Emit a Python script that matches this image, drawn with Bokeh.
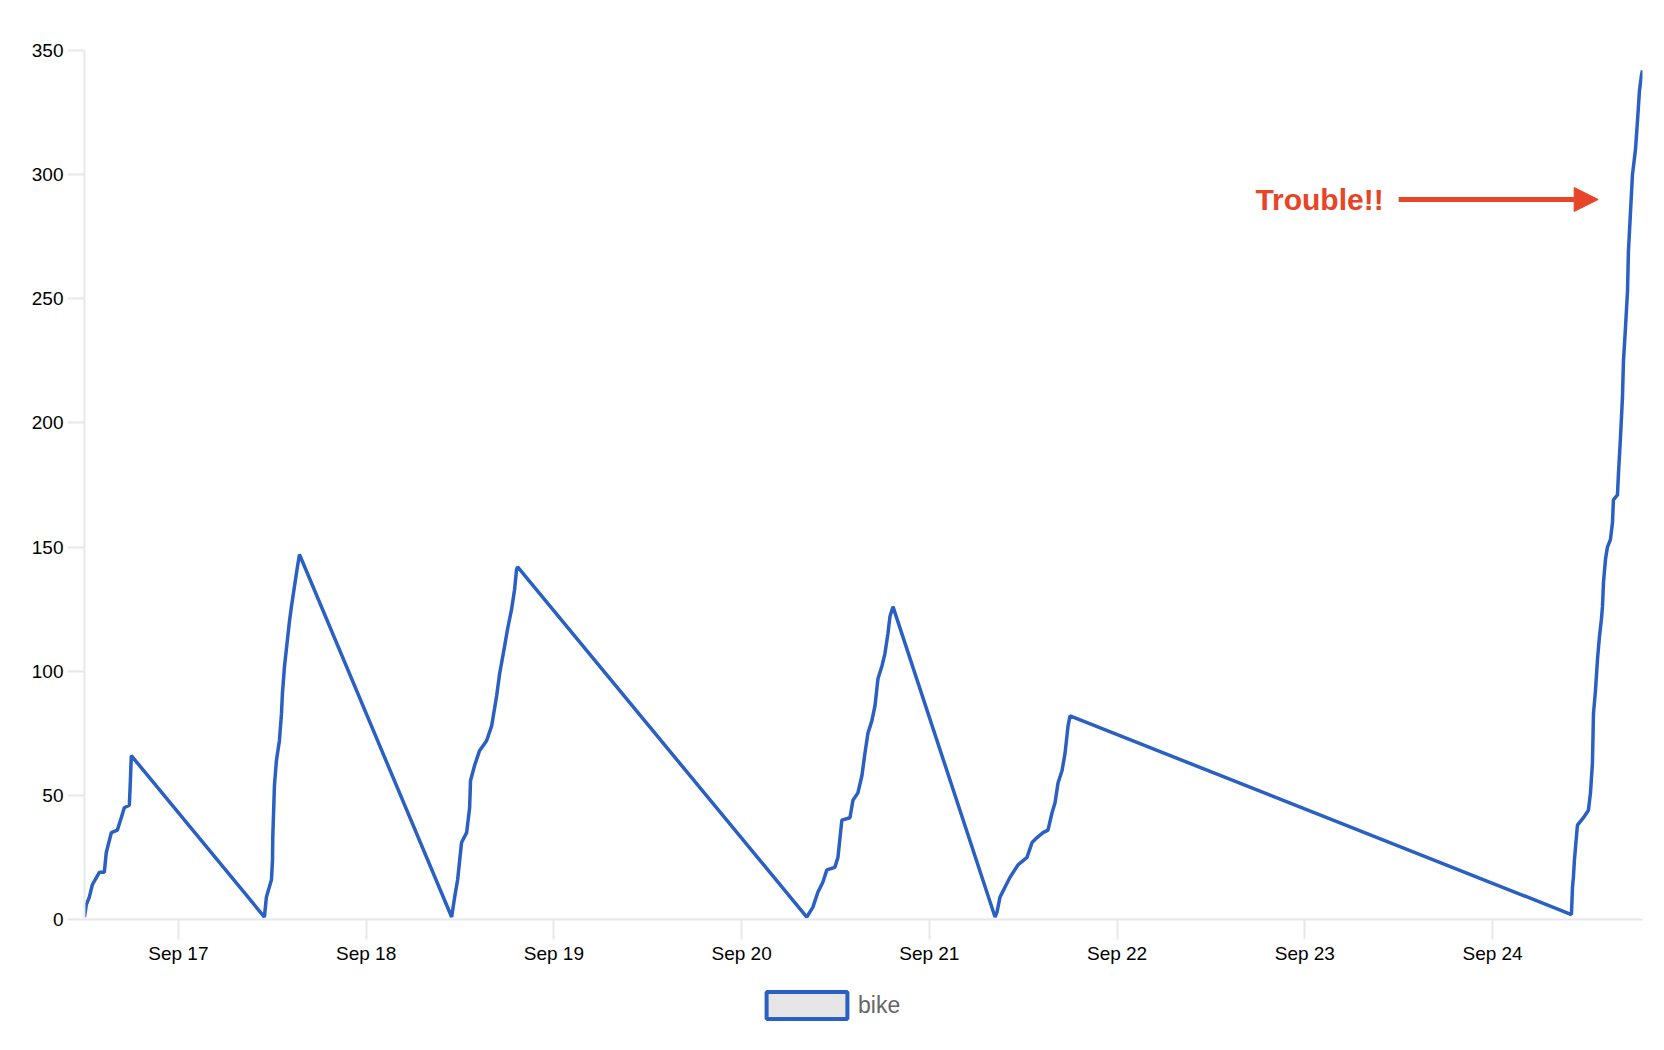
#!/usr/bin/env python
# coding: utf-8
import pandas as pd
from bokeh.plotting import figure
from bokeh.models import (DatetimeTickFormatter, DaysTicker, FixedTicker, Range1d,
                          Legend, LegendItem, Arrow, NormalHead, Label, ColumnDataSource)
from bokeh.layouts import column
from bokeh.embed import file_html
from bokeh.resources import INLINE

# cumulative bike count, one ramp per day
TIMES = [
    # Sep 16
    "2015-09-16 12:00", "2015-09-16 12:14", "2015-09-16 12:37", "2015-09-16 13:00",
    "2015-09-16 13:54", "2015-09-16 14:32", "2015-09-16 14:47", "2015-09-16 15:26",
    "2015-09-16 16:12", "2015-09-16 16:42", "2015-09-16 17:05", "2015-09-16 17:44",
    "2015-09-16 17:52", "2015-09-16 17:59",
    # Sep 17
    "2015-09-17 11:00", "2015-09-17 11:15", "2015-09-17 11:54", "2015-09-17 12:02",
    "2015-09-17 12:04", "2015-09-17 12:17", "2015-09-17 12:32", "2015-09-17 12:55",
    "2015-09-17 13:11", "2015-09-17 13:18", "2015-09-17 13:34", "2015-09-17 13:57",
    "2015-09-17 14:12", "2015-09-17 14:27", "2015-09-17 14:50", "2015-09-17 15:13",
    "2015-09-17 15:29",
    # Sep 18
    "2015-09-18 10:56", "2015-09-18 11:19", "2015-09-18 11:42", "2015-09-18 12:12",
    "2015-09-18 12:51", "2015-09-18 13:14", "2015-09-18 13:21", "2015-09-18 13:52",
    "2015-09-18 14:30", "2015-09-18 15:24", "2015-09-18 16:03", "2015-09-18 16:41",
    "2015-09-18 17:04", "2015-09-18 17:42", "2015-09-18 18:05", "2015-09-18 18:36",
    "2015-09-18 18:59", "2015-09-18 19:14", "2015-09-18 19:22",
    # Sep 20
    "2015-09-20 08:20", "2015-09-20 09:07", "2015-09-20 09:45", "2015-09-20 10:23",
    "2015-09-20 10:54", "2015-09-20 11:55", "2015-09-20 12:19", "2015-09-20 12:49",
    "2015-09-20 13:51", "2015-09-20 14:14", "2015-09-20 14:52", "2015-09-20 15:23",
    "2015-09-20 15:46", "2015-09-20 16:09", "2015-09-20 16:39", "2015-09-20 17:03",
    "2015-09-20 17:26", "2015-09-20 17:56", "2015-09-20 18:19", "2015-09-20 18:42",
    "2015-09-20 18:58", "2015-09-20 19:21",
    # Sep 21
    "2015-09-21 08:24", "2015-09-21 08:39", "2015-09-21 09:02", "2015-09-21 09:40",
    "2015-09-21 10:19", "2015-09-21 11:20", "2015-09-21 12:29", "2015-09-21 13:08",
    "2015-09-21 13:46", "2015-09-21 14:32", "2015-09-21 15:10", "2015-09-21 15:41",
    "2015-09-21 16:04", "2015-09-21 16:27", "2015-09-21 16:58", "2015-09-21 17:21",
    "2015-09-21 17:44", "2015-09-21 17:59",
    # Sep 24
    "2015-09-24 10:05", "2015-09-24 10:13", "2015-09-24 10:20", "2015-09-24 10:28",
    "2015-09-24 10:36", "2015-09-24 10:51", "2015-09-24 11:37", "2015-09-24 12:15",
    "2015-09-24 12:31", "2015-09-24 12:46", "2015-09-24 12:54", "2015-09-24 13:09",
    "2015-09-24 13:25", "2015-09-24 13:40", "2015-09-24 13:55", "2015-09-24 14:03",
    "2015-09-24 14:11", "2015-09-24 14:26", "2015-09-24 14:41", "2015-09-24 15:04",
    "2015-09-24 15:20", "2015-09-24 15:27", "2015-09-24 15:58", "2015-09-24 16:06",
    "2015-09-24 16:21", "2015-09-24 16:36", "2015-09-24 16:44", "2015-09-24 16:59",
    "2015-09-24 17:15", "2015-09-24 17:22", "2015-09-24 17:38", "2015-09-24 17:53",
    "2015-09-24 18:16", "2015-09-24 18:32", "2015-09-24 18:47", "2015-09-24 19:02",
    "2015-09-24 19:10",
]
BIKES = [
    1, 6, 9, 14, 19, 19, 27, 35, 36, 41, 45, 46, 56, 66,
    1, 9, 16, 24, 33, 54, 64, 72, 83, 91, 102, 113, 120, 126, 134, 142, 147,
    1, 9, 16, 31, 35, 45, 56, 62, 68, 72, 78, 90, 99, 110, 117, 125, 133, 141, 142,
    1, 5, 11, 15, 20, 21, 25, 40, 41, 48, 51, 58, 67, 75, 80, 86, 97, 102, 107, 115, 122, 126,
    1, 3, 9, 13, 17, 22, 25, 31, 33, 35, 36, 43, 47, 55, 60, 67, 78, 82,
    2, 13, 17, 24, 29, 38, 41, 44, 51, 63, 83, 92, 105, 114, 121, 126, 136, 145, 150, 153,
    160, 169, 171, 180, 194, 210, 225, 238, 253, 269, 285, 300, 310, 322, 334, 340, 342,
]
Y_TICKS = [0, 50, 100, 150, 200, 250, 300, 350]

# annotation
NOTE_TEXT = "Trouble!!"
ARROW_FROM = "2015-09-23 12:00"
ARROW_TO = "2015-09-24 13:30"
ARROW_Y = 290

LINE_COLOR = "#2a5fc4"
NOTE_COLOR = "#e84427"
AXIS_COLOR = "#e8e8e8"
FONT = "Liberation Sans"

df = pd.DataFrame({"time": pd.to_datetime(TIMES), "bike": BIKES})
source = ColumnDataSource(df)

p = figure(x_axis_type="datetime", width=1655, height=979,
           output_backend="svg", toolbar_location=None, tools="",
           min_border_left=84, min_border_right=13, min_border_top=50, min_border_bottom=60)
p.x_range = Range1d(start=df["time"].min(), end=df["time"].max())
p.y_range = Range1d(start=0, end=350)
p.outline_line_color = None
p.xgrid.visible = False
p.ygrid.visible = False

# axes
p.xaxis.ticker = DaysTicker(days=list(range(1, 32)))
p.xaxis.formatter = DatetimeTickFormatter(days="%b %d", months="%b %d", hours="%b %d")
p.yaxis.ticker = FixedTicker(ticks=Y_TICKS)
for ax in (p.xaxis, p.yaxis):
    ax.axis_line_color = AXIS_COLOR
    ax.axis_line_width = 2
    ax.major_tick_line_color = AXIS_COLOR
    ax.major_tick_line_width = 2
    ax.major_tick_in = 0
    ax.minor_tick_line_color = None
    ax.major_label_text_font = FONT
    ax.major_label_text_font_size = "19px"
    ax.major_label_text_color = "black"
p.xaxis.major_tick_out = 20
p.xaxis.major_label_standoff = 3
p.yaxis.major_tick_out = 17
p.yaxis.major_label_standoff = 4

line = p.line("time", "bike", source=source, line_color=LINE_COLOR, line_width=3.5)

# annotation arrow and text
p.add_layout(Arrow(end=NormalHead(size=24, fill_color=NOTE_COLOR, line_color=NOTE_COLOR),
                   x_start=pd.Timestamp(ARROW_FROM), y_start=ARROW_Y,
                   x_end=pd.Timestamp(ARROW_TO), y_end=ARROW_Y,
                   line_color=NOTE_COLOR, line_width=5))
p.add_layout(Label(x=pd.Timestamp(ARROW_FROM), y=ARROW_Y, text=NOTE_TEXT, x_offset=-15,
                   text_align="right", text_baseline="middle", text_color=NOTE_COLOR,
                   text_font=FONT, text_font_size="30px", text_font_style="bold"))

# legend strip under the chart: a grey box bordered in the series colour
leg = figure(width=1655, height=53, output_backend="svg", toolbar_location=None, tools="",
             x_axis_location=None, y_axis_location=None, min_border=0)
leg.outline_line_color = None
leg.xgrid.visible = False
leg.ygrid.visible = False
nan = float("nan")
swatch = leg.quad(left=[nan], right=[nan], top=[nan], bottom=[nan], fill_color="#e6e6e6",
                  line_color=LINE_COLOR, line_width=4)
# the area swatch is drawn at 80% of the glyph box
legend = Legend(items=[LegendItem(label="bike", renderers=[swatch])],
                location=(672, 10), orientation="horizontal",
                glyph_width=101, glyph_height=34, label_text_font=FONT,
                label_text_font_size="23px", label_text_color="#666666",
                border_line_color=None, background_fill_alpha=0,
                padding=0, margin=0, label_standoff=1)
leg.add_layout(legend, "center")

layout = column(p, leg, spacing=0)

with open("out.html", "w") as f:
    f.write(file_html(layout, INLINE, "bike"))
